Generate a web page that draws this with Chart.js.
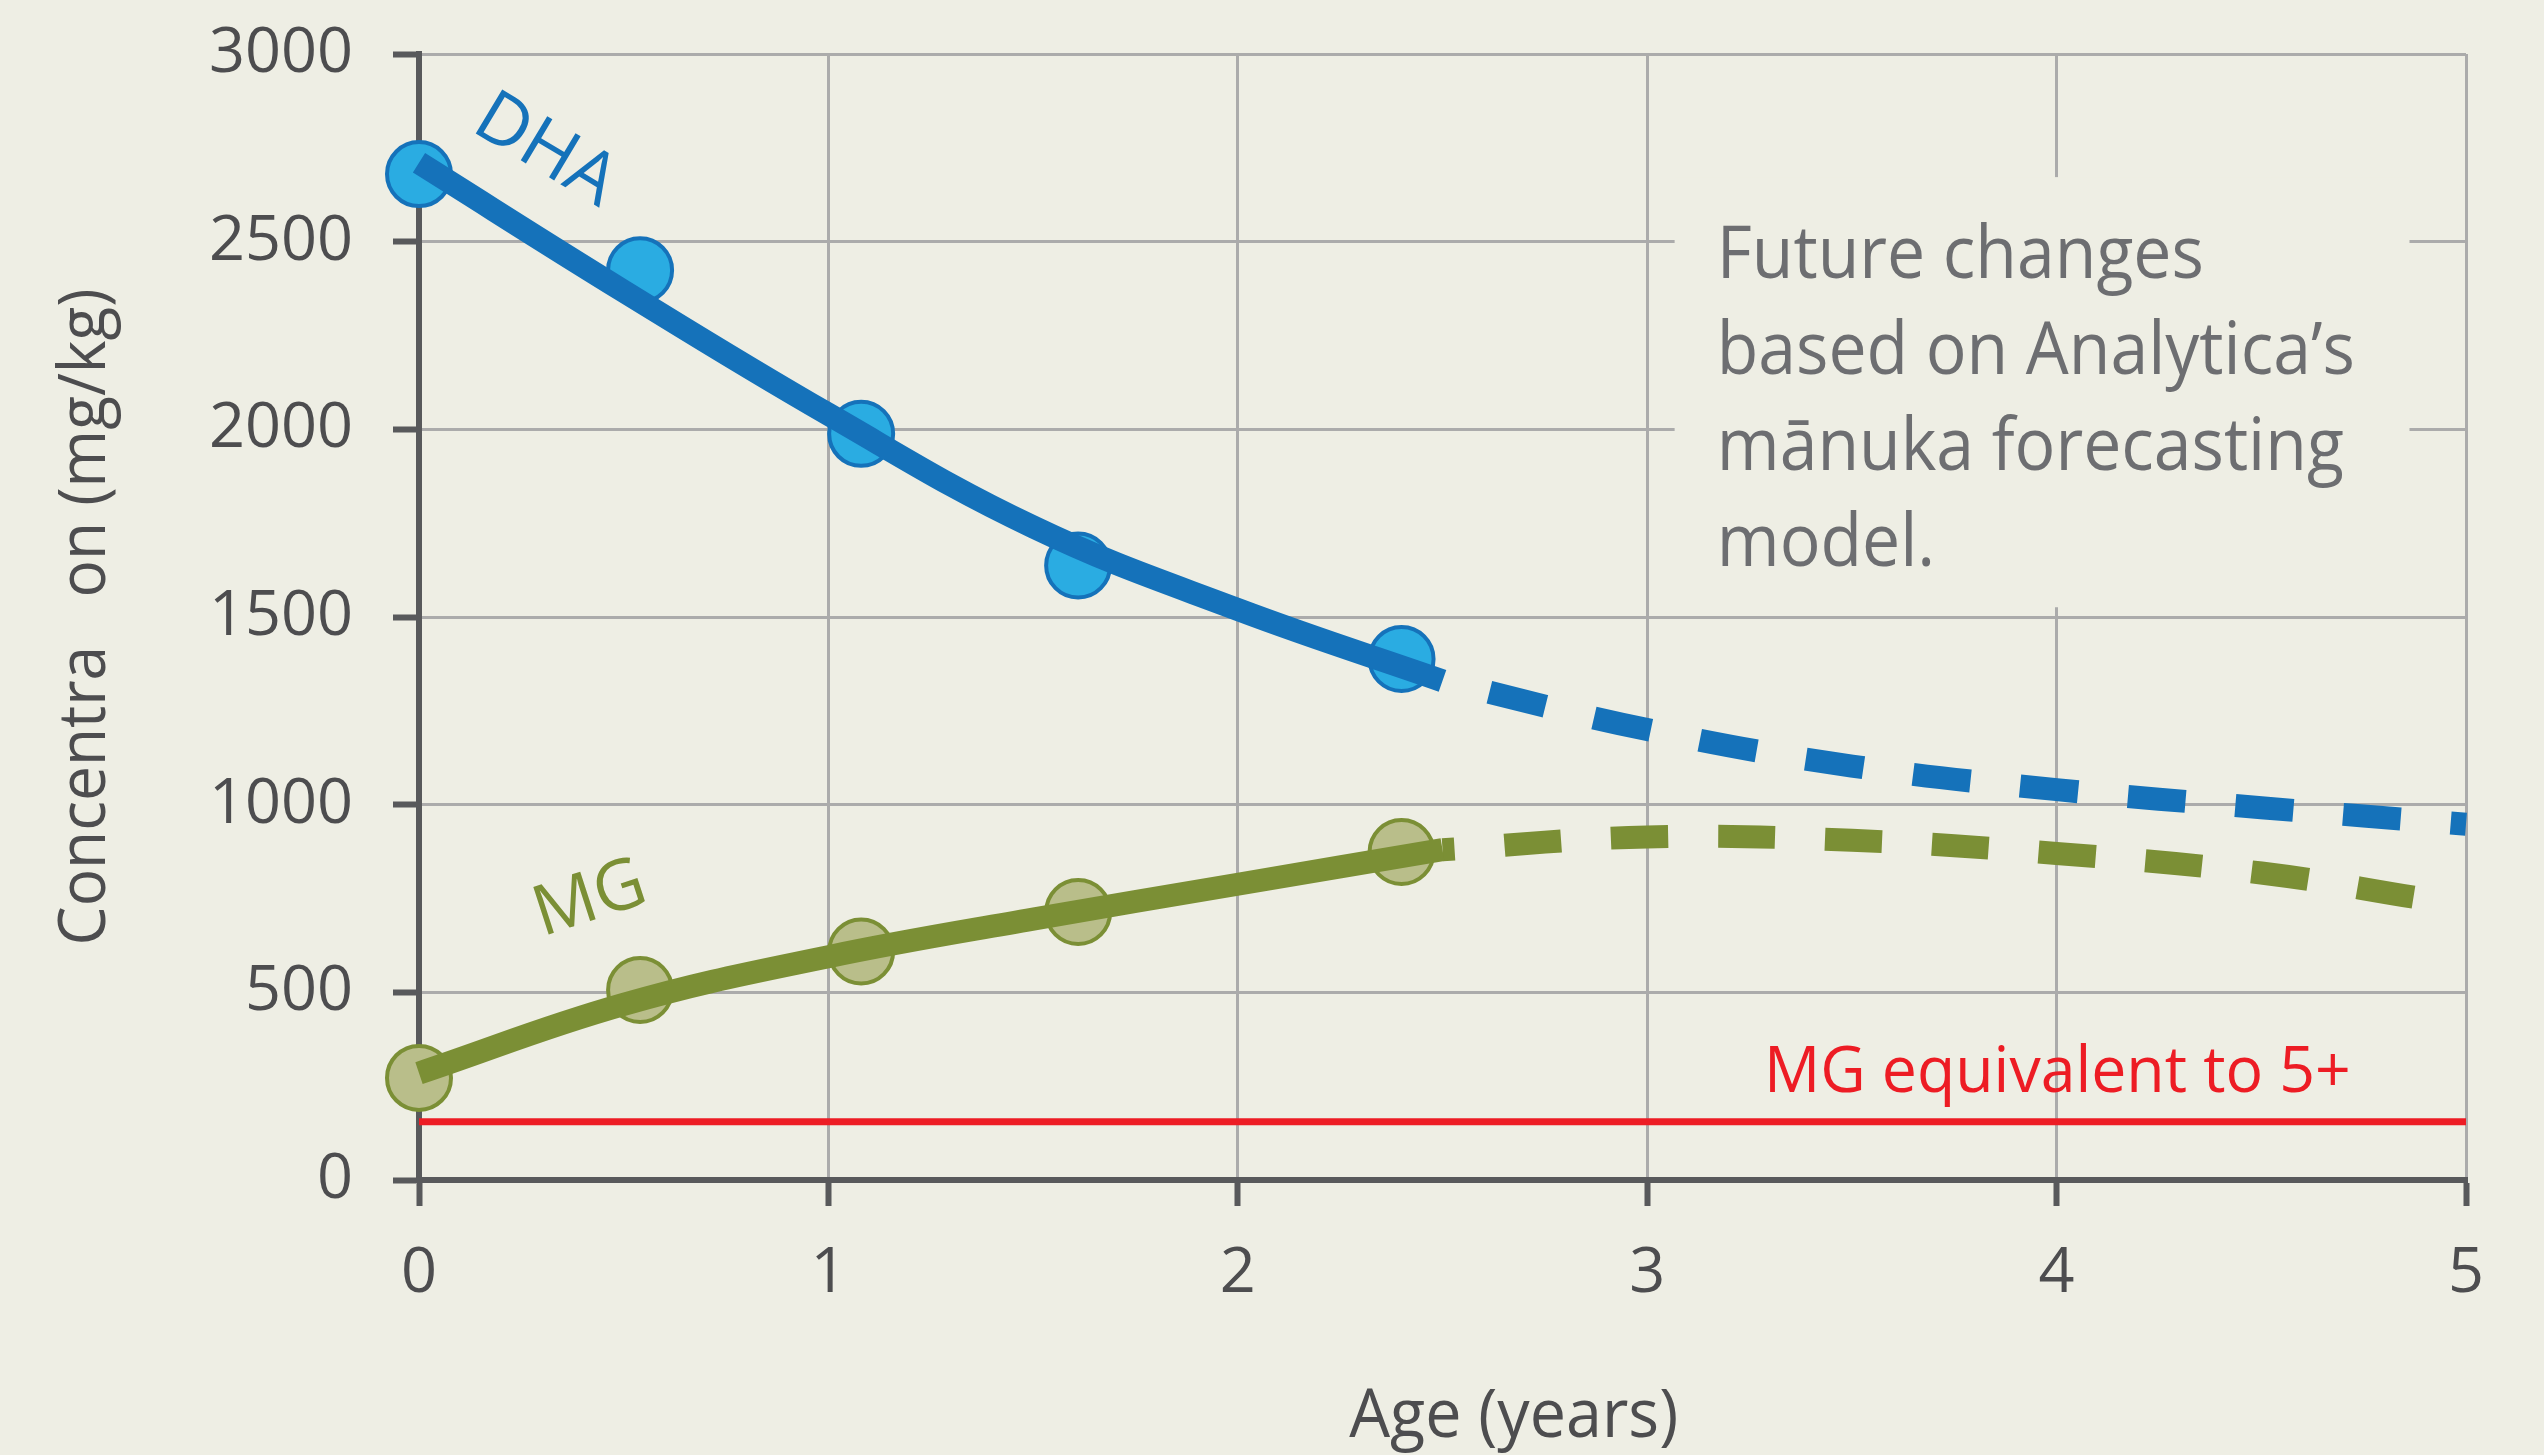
<!DOCTYPE html>
<html>
<head>
<meta charset="utf-8">
<title>DHA and MG concentration by age</title>
<script src="https://cdn.jsdelivr.net/npm/chart.js@4.4.0/dist/chart.umd.min.js"></script>
<style>
    html, body { margin: 0; padding: 0; background: #eeeee4; }
    #wrap { width: 2544px; height: 1455px; }
</style>
</head>
<body>
<div id="wrap"><canvas id="concChart" width="2544" height="1455"></canvas></div>
<script>
// measured samples (age in years, concentration mg/kg)
const sampleAges = [0, 0.54, 1.08, 1.61, 2.4];
const dhaSamples = [2680, 2424, 1988, 1637, 1388];
const mgSamples = [272, 506, 609, 714, 874];

// fitted curves up to now
const fitAges = [0, 0.5, 1, 1.5, 2, 2.5];
const dhaFit = [2710, 2368, 2040, 1740, 1520, 1330];
const mgFit = [285, 468, 595, 695, 788, 880];

// forecast part (dashed)
const dhaForecastAges = [2.5, 3, 3.5, 4, 4.5, 5];
const dhaForecast = [1330, 1200, 1103, 1040, 992, 948];
const mgForecastAges = [2.5, 3, 3.5, 4, 4.5, 4.88];
const mgForecast = [880, 914, 905, 870, 818, 752];

// MG level equivalent to UMF 5+
const mg5Ages = [0, 5];
const mg5Level = [155, 155];

const noteLines = ['Future changes', 'based on Analytica\u2019s', 'm\u0101nuka forecasting', 'model.'];

const BG = '#eeeee4';
const AXIS = '#58595b';
const TEXT = '#4d4d4f';

const toPoints = (xs, ys) => xs.map((x, i) => ({ x: x, y: ys[i] }));

function drawText(ctx, str, x, y, o) {
    ctx.save();
    ctx.font = (o.size) + 'px ' + (o.family || '"Open Sans"');
    ctx.fillStyle = o.color || TEXT;
    ctx.textAlign = o.align || 'left';
    ctx.textBaseline = o.baseline || 'alphabetic';
    ctx.translate(x, y);
    if (o.rotate) ctx.rotate(o.rotate);
    ctx.scale(o.sx || 1, 1);
    ctx.fillText(str, 0, 0);
    ctx.restore();
}

function fitScale(ctx, str, size, target, family) {
    ctx.save();
    ctx.font = size + 'px ' + (family || '"Open Sans"');
    const w = ctx.measureText(str).width;
    ctx.restore();
    return target / w;
}

const labelsPlugin = {
    id: 'labels',
    beforeDatasetsDraw(chart) {
        const ctx = chart.ctx;
        const xs = chart.scales.x, ys = chart.scales.y;
        // plain box behind the note, hides the grid there
        const l = xs.getPixelForValue(3.067), r = xs.getPixelForValue(4.862);
        const t = ys.getPixelForValue(2672), b = ys.getPixelForValue(1526);
        ctx.save();
        ctx.fillStyle = BG;
        ctx.fillRect(l, t, r - l, b - t);
        ctx.restore();

        const sx = fitScale(ctx, noteLines[1], 74, 638);
        const nx = xs.getPixelForValue(3.17);
        const ny = ys.getPixelForValue(2403);
        noteLines.forEach((line, i) => {
            drawText(ctx, line, nx, ny + i * 96, { size: 74, color: '#6d6e71', sx: sx });
        });
    },
    afterDraw(chart) {
        const ctx = chart.ctx;
        const xs = chart.scales.x, ys = chart.scales.y;
        const area = chart.chartArea;

        // series names along the curves
        drawText(ctx, 'DHA', xs.getPixelForValue(0.308), ys.getPixelForValue(2741),
            { size: 72, color: '#1572ba', align: 'center', baseline: 'middle', rotate: 31 * Math.PI / 180 });
        drawText(ctx, 'MG', xs.getPixelForValue(0.418), ys.getPixelForValue(746),
            { size: 70, color: '#7b8f35', align: 'center', baseline: 'middle', rotate: -18 * Math.PI / 180 });

        // threshold label
        const mgLbl = 'MG equivalent to 5+';
        drawText(ctx, mgLbl, xs.getPixelForValue(3.285), ys.getPixelForValue(234),
            { size: 64, color: '#ed1c24', sx: fitScale(ctx, mgLbl, 64, 587) });

        // axis titles
        const xt = 'Age (years)';
        drawText(ctx, xt, xs.getPixelForValue(2.674), area.bottom + 257,
            { size: 68, align: 'center', sx: fitScale(ctx, xt, 68, 329) });
        const yt = 'Concentra   on (mg/kg)';
        drawText(ctx, yt, 105, (area.top + area.bottom) / 2,
            { size: 66, align: 'center', rotate: -Math.PI / 2, sx: fitScale(ctx, yt, 66, 657) });
    }
};

document.addEventListener('DOMContentLoaded', () => {
    const ctx = document.getElementById('concChart').getContext('2d');

    const fitLine = (data, color, dash, dashOffset) => ({
        data: data,
        borderColor: color,
        borderWidth: 23,
        borderDash: dash || [],
        borderDashOffset: dashOffset || 0,
        pointRadius: 0,
        tension: 0.4,
        showLine: true,
        fill: false,
        clip: false
    });

    const samples = (data, fill, border) => ({
        data: data,
        showLine: false,
        pointRadius: 32,
        pointHoverRadius: 32,
        pointBorderWidth: 4,
        pointBackgroundColor: fill,
        pointBorderColor: border,
        clip: false
    });

    const concChart = new Chart(ctx, {
        type: 'scatter',
        data: {
            datasets: [
                fitLine(toPoints(fitAges, dhaFit), '#1572ba'),
                fitLine(toPoints(dhaForecastAges, dhaForecast), '#1572ba', [58, 50], 60),
                fitLine(toPoints(fitAges, mgFit), '#7b8f35'),
                fitLine(toPoints(mgForecastAges, mgForecast), '#7b8f35', [57, 50], 45),
                samples(toPoints(sampleAges, dhaSamples), '#2aace2', '#1572ba'),
                samples(toPoints(sampleAges, mgSamples), '#b9be8a', '#7b8f35'),
                {
                    data: toPoints(mg5Ages, mg5Level),
                    showLine: true,
                    borderColor: '#ed1c24',
                    borderWidth: 7,
                    pointRadius: 0,
                    clip: false
                }
            ]
        },
        options: {
            responsive: false,
            animation: false,
            layout: {
                padding: { top: 54, right: 78, left: 0, bottom: 0 }
            },
            scales: {
                x: {
                    type: 'linear',
                    min: 0,
                    max: 5,
                    afterFit: (scale) => {
                        scale.height = 275;
                        scale.paddingLeft = 0;
                        scale.paddingRight = 0;
                    },
                    ticks: {
                        stepSize: 1,
                        color: TEXT,
                        padding: 30,
                        font: { family: '"Open Sans"', size: 63 }
                    },
                    grid: {
                        color: '#ababab',
                        lineWidth: 3,
                        tickColor: AXIS,
                        tickWidth: 6,
                        tickLength: 26
                    },
                    border: { color: AXIS, width: 6 }
                },
                y: {
                    min: 0,
                    max: 3000,
                    afterFit: (scale) => {
                        scale.width = 419;
                        scale.paddingTop = 0;
                        scale.paddingBottom = 0;
                    },
                    ticks: {
                        stepSize: 500,
                        color: TEXT,
                        padding: 40,
                        font: { family: '"Open Sans"', size: 63 },
                        callback: (value) => String(value)
                    },
                    grid: {
                        color: '#ababab',
                        lineWidth: 3,
                        tickColor: AXIS,
                        tickWidth: 6,
                        tickLength: 26
                    },
                    border: { color: AXIS, width: 6 }
                }
            },
            plugins: {
                legend: { display: false },
                tooltip: { enabled: false }
            }
        },
        plugins: [labelsPlugin]
    });
});
</script>
</body>
</html>
